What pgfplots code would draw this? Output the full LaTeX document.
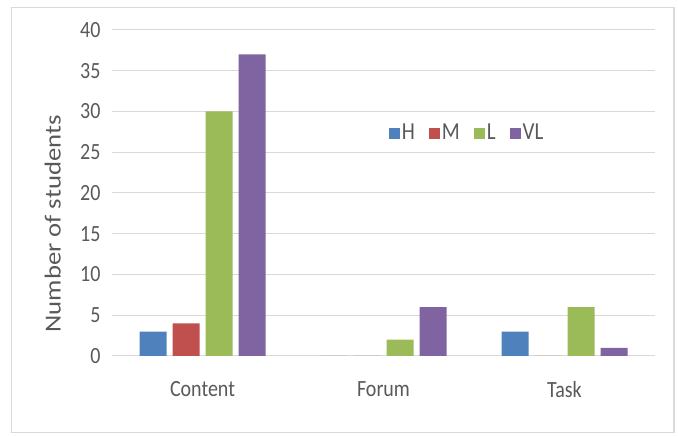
\documentclass[border=0pt]{standalone}
\usepackage{pgfplots}
\pgfplotsset{compat=1.18}
\usepackage{graphicx}
\usepackage{fontspec}
\setmainfont{Carlito}
\definecolor{cH}{HTML}{4F81BD}
\definecolor{cM}{HTML}{C0504D}
\definecolor{cL}{HTML}{9BBB59}
\definecolor{cVL}{HTML}{8064A2}
\definecolor{txt}{HTML}{595959}
\definecolor{gridc}{HTML}{D9D9D9}
\begin{document}
\begin{tikzpicture}[x=1pt,y=1pt]
\path (0,0) rectangle (678,436);
\draw[color=gridc,line width=1.2pt] (11.5,3.5) rectangle (674,428.5);
\begin{axis}[
  at={(112pt,80pt)}, anchor=south west,
  scale only axis, width=543pt, height=326pt,
  xmin=-0.5, xmax=2.5, ymin=0, ymax=40,
  ybar=6pt, bar width=27pt,
  xtick={0,1,2}, xticklabels={Content,Forum,Task},
  ytick={0,5,...,40},
  /pgf/number format/assume math mode=true,
  axis line style={draw=none},
  tick style={draw=none},
  ymajorgrids, grid style={color=gridc, line width=1pt},
  ticklabel style={font=\fontsize{20}{24}\selectfont, text=txt, yscale=1.16},
  yticklabel style={xshift=-8pt},
  xticklabel style={yshift=-15pt},
  ylabel={\scalebox{1.16}[1]{Number of students}},
  every axis y label/.style={at={(axis description cs:-0.109,0.405)}, rotate=90, anchor=center, font=\fontsize{23}{27}\selectfont, text=txt},
  legend columns=4,
  legend style={at={(axis description cs:0.504,0.684)}, anchor=west, draw=none, fill=none,
    font=\fontsize{21}{25}\selectfont, text=txt,
    nodes={yscale=1.16},
    /tikz/every even column/.append style={column sep=12pt}},
  legend image code/.code={\fill[#1] (0pt,-5.5pt) rectangle (11pt,5.5pt);},
]
\addplot[fill=cH, draw=none] coordinates {(0,3) (1,0) (2,3)};
\addplot[fill=cM, draw=none] coordinates {(0,4) (1,0) (2,0)};
\addplot[fill=cL, draw=none] coordinates {(0,30) (1,2) (2,6)};
\addplot[fill=cVL, draw=none] coordinates {(0,37) (1,6) (2,1)};
\legend{H,M,L,VL}
\end{axis}
\end{tikzpicture}
\end{document}
